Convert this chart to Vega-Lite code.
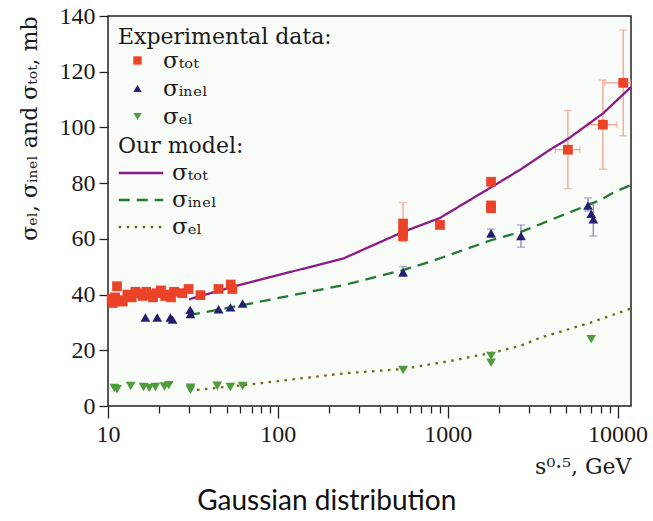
{
  "$schema": "https://vega.github.io/schema/vega-lite/v6.json",
  "width": 523,
  "height": 390,
  "autosize": {"type": "none"},
  "padding": {"left": 108, "top": 16, "right": 22, "bottom": 115},
  "background": "#ffffff",
  "title": {"text": "Gaussian distribution", "orient": "bottom", "font": "Lato", "fontSize": 28, "fontWeight": "normal", "color": "#111111", "offset": 11, "anchor": "middle", "frame": "bounds", "dx": -6},
  "config": {
    "view": {"stroke": "#222222", "strokeWidth": 1.5, "fill": "#f9fbf8"},
    "font": "Liberation Serif",
    "axis": {"grid": false, "domain": false, "tickColor": "#222222", "tickWidth": 1.3, "labelFont": "Liberation Serif", "titleFont": "DejaVu Serif", "labelColor": "#1a1a1a", "titleColor": "#1a1a1a", "labelFontSize": 24, "titleFontSize": 22, "titleFontWeight": "normal"},
    "legend": {"titleFont": "DejaVu Serif", "labelFont": "DejaVu Serif", "titleFontWeight": "normal", "titleColor": "#1a1a1a", "labelColor": "#1a1a1a", "titleLimit": 400, "labelLimit": 300}
  },
  "datasets": {
    "pts": [
      {"s": 10.5, "v": 38.5, "k": "tot"}, {"s": 10.7, "v": 37, "k": "tot"}, {"s": 11.0, "v": 39, "k": "tot"}, {"s": 11.3, "v": 43, "k": "tot"}, {"s": 11.6, "v": 38, "k": "tot"}, {"s": 12.2, "v": 37.5, "k": "tot"}, {"s": 13.0, "v": 40, "k": "tot"}, {"s": 13.8, "v": 39, "k": "tot"}, {"s": 14.5, "v": 41, "k": "tot"}, {"s": 15.2, "v": 40.5, "k": "tot"}, {"s": 16.0, "v": 39.5, "k": "tot"}, {"s": 16.8, "v": 41, "k": "tot"}, {"s": 17.5, "v": 40, "k": "tot"}, {"s": 18.4, "v": 39, "k": "tot"}, {"s": 19.4, "v": 40.5, "k": "tot"}, {"s": 20.5, "v": 41.5, "k": "tot"}, {"s": 21.7, "v": 39.5, "k": "tot"}, {"s": 22.5, "v": 40, "k": "tot"}, {"s": 23.5, "v": 39, "k": "tot"}, {"s": 24.5, "v": 41, "k": "tot"}, {"s": 27.4, "v": 40.5, "k": "tot"}, {"s": 29.8, "v": 42, "k": "tot"}, {"s": 35, "v": 39.8, "k": "tot"}, {"s": 44.7, "v": 42, "k": "tot"}, {"s": 52.8, "v": 43.6, "k": "tot"}, {"s": 54, "v": 42, "k": "tot"},
      {"s": 546, "v": 65.5, "k": "tot"}, {"s": 546, "v": 62.5, "k": "tot"}, {"s": 546, "v": 61, "k": "tot"}, {"s": 900, "v": 65, "k": "tot"}, {"s": 1800, "v": 80.5, "k": "tot"}, {"s": 1800, "v": 72, "k": "tot"}, {"s": 1800, "v": 71, "k": "tot"}, {"s": 5100, "v": 92, "k": "tot"}, {"s": 8200, "v": 101, "k": "tot"}, {"s": 10800, "v": 116, "k": "tot"},
      {"s": 16.6, "v": 31.8, "k": "inel"}, {"s": 19.5, "v": 31.8, "k": "inel"}, {"s": 23.3, "v": 31.8, "k": "inel"}, {"s": 24.0, "v": 31, "k": "inel"}, {"s": 30.5, "v": 34.5, "k": "inel"}, {"s": 30.6, "v": 33, "k": "inel"}, {"s": 44.8, "v": 34.7, "k": "inel"}, {"s": 52.6, "v": 35.4, "k": "inel"}, {"s": 62, "v": 36.8, "k": "inel"}, {"s": 546, "v": 48, "k": "inel"}, {"s": 1800, "v": 62, "k": "inel"}, {"s": 2700, "v": 61, "k": "inel"}, {"s": 6700, "v": 72, "k": "inel"}, {"s": 7000, "v": 69, "k": "inel"}, {"s": 7200, "v": 67, "k": "inel"},
      {"s": 10.9, "v": 6.5, "k": "el"}, {"s": 11.3, "v": 6.0, "k": "el"}, {"s": 13.6, "v": 7.2, "k": "el"}, {"s": 16.2, "v": 6.8, "k": "el"}, {"s": 17.5, "v": 6.5, "k": "el"}, {"s": 19.0, "v": 6.8, "k": "el"}, {"s": 21.5, "v": 7.0, "k": "el"}, {"s": 22.8, "v": 7.5, "k": "el"}, {"s": 30.6, "v": 5.8, "k": "el"}, {"s": 30.6, "v": 6.6, "k": "el"}, {"s": 44, "v": 7.3, "k": "el"}, {"s": 52.5, "v": 6.8, "k": "el"}, {"s": 62, "v": 7.2, "k": "el"}, {"s": 546, "v": 12.9, "k": "el"}, {"s": 1800, "v": 18, "k": "el"}, {"s": 1800, "v": 15.5, "k": "el"}, {"s": 7000, "v": 24, "k": "el"}
    ],
    "errtot": [
      {"s": 546, "lo": 59, "hi": 73, "v": 65.5, "slo": 546, "shi": 546},
      {"s": 5100, "lo": 78, "hi": 106, "v": 92, "slo": 4300, "shi": 6000},
      {"s": 8200, "lo": 85, "hi": 117, "v": 101, "slo": 6700, "shi": 9900},
      {"s": 10800, "lo": 97, "hi": 135, "v": 116, "slo": 8400, "shi": 11900}
    ],
    "errinel": [
      {"s": 546, "lo": 46.5, "hi": 50},
      {"s": 1800, "lo": 60.5, "hi": 63.5},
      {"s": 2700, "lo": 57, "hi": 65},
      {"s": 6700, "lo": 70, "hi": 74.7},
      {"s": 7200, "lo": 61, "hi": 73}
    ],
    "model": [
      {"s": 30, "v": 38.3, "m": "mtot"}, {"s": 55, "v": 42.9, "m": "mtot"}, {"s": 244, "v": 53, "m": "mtot"}, {"s": 546, "v": 62.5, "m": "mtot"}, {"s": 900, "v": 67.5, "m": "mtot"}, {"s": 1800, "v": 78.5, "m": "mtot"}, {"s": 2700, "v": 85, "m": "mtot"}, {"s": 4000, "v": 92, "m": "mtot"}, {"s": 5140, "v": 96, "m": "mtot"}, {"s": 8200, "v": 105, "m": "mtot"}, {"s": 12000, "v": 114.5, "m": "mtot"},
      {"s": 30, "v": 32.6, "m": "minel"}, {"s": 63, "v": 36.3, "m": "minel"}, {"s": 244, "v": 43.4, "m": "minel"}, {"s": 546, "v": 48.8, "m": "minel"}, {"s": 790, "v": 51.8, "m": "minel"}, {"s": 1800, "v": 59.5, "m": "minel"}, {"s": 2700, "v": 62.5, "m": "minel"}, {"s": 7890, "v": 73.9, "m": "minel"}, {"s": 9660, "v": 76.9, "m": "minel"}, {"s": 12000, "v": 79.3, "m": "minel"},
      {"s": 30, "v": 5.5, "m": "mel"}, {"s": 63, "v": 7.5, "m": "mel"}, {"s": 244, "v": 11.7, "m": "mel"}, {"s": 546, "v": 13.3, "m": "mel"}, {"s": 1000, "v": 16, "m": "mel"}, {"s": 1800, "v": 19, "m": "mel"}, {"s": 2700, "v": 21.7, "m": "mel"}, {"s": 3500, "v": 24.5, "m": "mel"}, {"s": 7000, "v": 30, "m": "mel"}, {"s": 12000, "v": 35, "m": "mel"}
    ]
  },
  "layer": [
    {
      "data": {"name": "errtot"},
      "mark": {"type": "rule", "color": "#f2a18f", "strokeWidth": 1.3},
      "encoding": {
        "x": {"field": "s", "type": "quantitative", "scale": {"type": "log", "domain": [10, 12000], "nice": false},
          "axis": {"title": "s⁰·⁵, GeV", "titleAnchor": "end", "titlePadding": 10, "labelFont": "Liberation Serif", "titleFont": "DejaVu Serif",
            "values": [10,20,30,40,50,60,70,80,90,100,200,300,400,500,600,700,800,900,1000,2000,3000,4000,5000,6000,7000,8000,9000,10000],
            "labelExpr": "indexof([10,100,1000,10000], datum.value) >= 0 ? format(datum.value, 'd') : ''",
            "tickSize": {"condition": {"test": "indexof([10,100,1000,10000], datum.value) >= 0", "value": 12}, "value": 7},
            "labelPadding": 4, "labelFlush": false}},
        "y": {"field": "lo", "type": "quantitative", "scale": {"domain": [0, 140], "nice": false},
          "axis": {"title": "σₑₗ, σᵢₙₑₗ and σₜₒₜ, mb", "titleAnchor": "end", "titlePadding": 18, "labelFont": "Liberation Serif", "titleFont": "DejaVu Serif",
            "values": [0,10,20,30,40,50,60,70,80,90,100,110,120,130,140],
            "labelExpr": "datum.value % 20 === 0 ? datum.label : ''",
            "tickSize": {"condition": {"test": "datum.value % 20 === 0", "value": 9}, "value": 6},
            "labelPadding": 4}},
        "y2": {"field": "hi"}
      }
    },
    {
      "data": {"name": "errtot"},
      "mark": {"type": "rule", "color": "#f2a18f", "strokeWidth": 1.3},
      "encoding": {
        "x": {"field": "slo", "type": "quantitative"},
        "x2": {"field": "shi"},
        "y": {"field": "v", "type": "quantitative"}
      }
    },
    {
      "data": {"name": "errtot"},
      "mark": {"type": "tick", "color": "#f2a18f", "thickness": 1.3, "size": 8, "orient": "horizontal"},
      "encoding": {"x": {"field": "s", "type": "quantitative"}, "y": {"field": "lo", "type": "quantitative"}}
    },
    {
      "data": {"name": "errtot"},
      "mark": {"type": "tick", "color": "#f2a18f", "thickness": 1.3, "size": 8, "orient": "horizontal"},
      "encoding": {"x": {"field": "s", "type": "quantitative"}, "y": {"field": "hi", "type": "quantitative"}}
    },
    {
      "data": {"name": "errtot"},
      "mark": {"type": "tick", "color": "#f2a18f", "thickness": 1.3, "size": 7, "orient": "vertical"},
      "encoding": {"x": {"field": "slo", "type": "quantitative"}, "y": {"field": "v", "type": "quantitative"}}
    },
    {
      "data": {"name": "errtot"},
      "mark": {"type": "tick", "color": "#f2a18f", "thickness": 1.3, "size": 7, "orient": "vertical"},
      "encoding": {"x": {"field": "shi", "type": "quantitative"}, "y": {"field": "v", "type": "quantitative"}}
    },
    {
      "data": {"name": "errinel"},
      "mark": {"type": "rule", "color": "#8886bb", "strokeWidth": 1.3},
      "encoding": {
        "x": {"field": "s", "type": "quantitative"},
        "y": {"field": "lo", "type": "quantitative"},
        "y2": {"field": "hi"}
      }
    },
    {
      "data": {"name": "errinel"},
      "mark": {"type": "tick", "color": "#8886bb", "thickness": 1.3, "size": 8, "orient": "horizontal"},
      "encoding": {"x": {"field": "s", "type": "quantitative"}, "y": {"field": "lo", "type": "quantitative"}}
    },
    {
      "data": {"name": "errinel"},
      "mark": {"type": "tick", "color": "#8886bb", "thickness": 1.3, "size": 8, "orient": "horizontal"},
      "encoding": {"x": {"field": "s", "type": "quantitative"}, "y": {"field": "hi", "type": "quantitative"}}
    },
    {
      "data": {"name": "model"},
      "mark": {"type": "line", "strokeWidth": 2.3},
      "encoding": {
        "x": {"field": "s", "type": "quantitative"},
        "y": {"field": "v", "type": "quantitative"},
        "stroke": {"field": "m", "type": "nominal", "scale": {"domain": ["mtot", "minel", "mel"], "range": ["#8c1a88", "#237a37", "#6f6a12"]},
          "legend": {"title": "Our model:", "orient": "none", "legendX": 10, "legendY": 120, "titleFontSize": 22, "labelFontSize": 23, "symbolType": "M-1.65,0H1.65", "symbolSize": 729, "symbolStrokeWidth": 2.3, "symbolOffset": 8, "labelOffset": 16, "rowPadding": 0, "titlePadding": 0, "padding": 0,
            "labelExpr": "datum.value === 'mtot' ? 'σₜₒₜ' : datum.value === 'minel' ? 'σᵢₙₑₗ' : 'σₑₗ'"}},
        "strokeDash": {"field": "m", "type": "nominal", "scale": {"domain": ["mtot", "minel", "mel"], "range": [[1, 0], [11, 7], [2.5, 5.5]]},
          "legend": {"title": "Our model:", "orient": "none", "legendX": 10, "legendY": 120, "titleFontSize": 22, "labelFontSize": 23, "symbolType": "M-1.65,0H1.65", "symbolSize": 729, "symbolStrokeWidth": 2.3, "symbolOffset": 8, "labelOffset": 16, "rowPadding": 0, "titlePadding": 0, "padding": 0,
            "labelExpr": "datum.value === 'mtot' ? 'σₜₒₜ' : datum.value === 'minel' ? 'σᵢₙₑₗ' : 'σₑₗ'"}}
      }
    },
    {
      "data": {"name": "pts"},
      "mark": {"type": "point", "filled": true, "opacity": 1, "strokeWidth": 0, "size": 95},
      "encoding": {
        "x": {"field": "s", "type": "quantitative"},
        "y": {"field": "v", "type": "quantitative"},
        "fill": {"field": "k", "type": "nominal", "scale": {"domain": ["tot", "inel", "el"], "range": ["#ea4329", "#221d6f", "#4f9c3d"]},
          "legend": {"title": "Experimental data:", "orient": "none", "legendX": 10, "legendY": 11, "titleFontSize": 22, "labelFontSize": 23, "symbolSize": 70, "symbolOffset": 8, "labelOffset": 14, "rowPadding": 4, "titlePadding": 0, "padding": 0,
            "labelExpr": "datum.value === 'tot' ? 'σₜₒₜ' : datum.value === 'inel' ? 'σᵢₙₑₗ' : 'σₑₗ'"}},
        "shape": {"field": "k", "type": "nominal", "scale": {"domain": ["tot", "inel", "el"], "range": ["square", "triangle-up", "triangle-down"]},
          "legend": {"title": "Experimental data:", "orient": "none", "legendX": 10, "legendY": 11, "titleFontSize": 22, "labelFontSize": 23, "symbolSize": 70, "symbolOffset": 8, "labelOffset": 14, "rowPadding": 4, "titlePadding": 0, "padding": 0,
            "labelExpr": "datum.value === 'tot' ? 'σₜₒₜ' : datum.value === 'inel' ? 'σᵢₙₑₗ' : 'σₑₗ'"}}
      }
    }
  ]
}
